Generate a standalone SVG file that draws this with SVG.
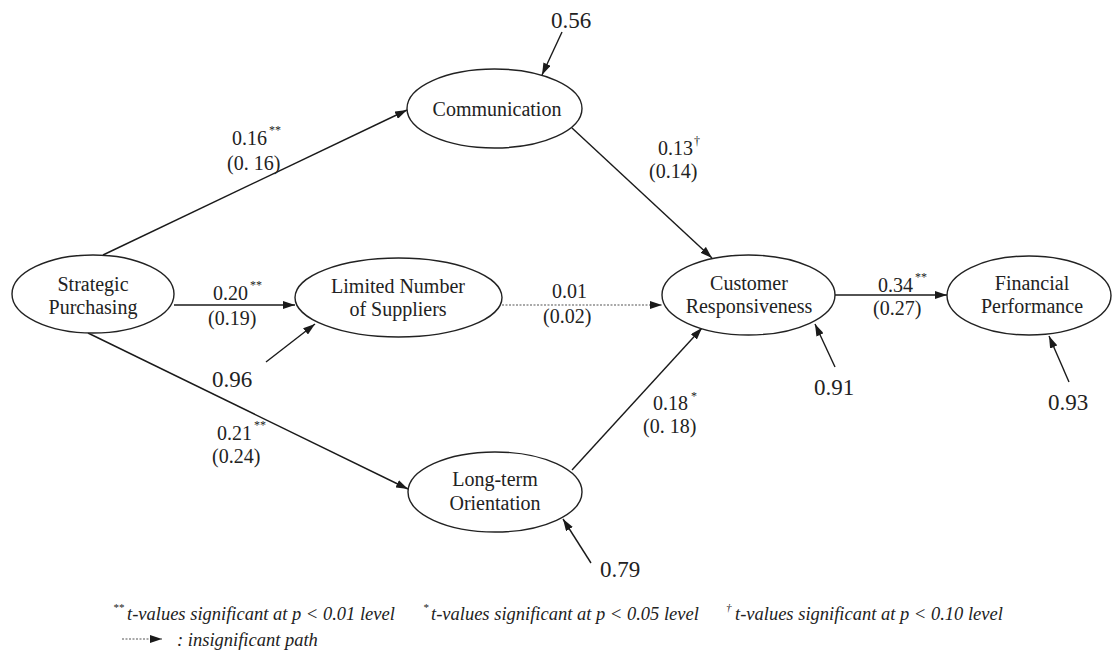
<svg xmlns="http://www.w3.org/2000/svg" width="1113" height="659" viewBox="0 0 1113 659" font-family="'Liberation Serif', 'Times New Roman', 'DejaVu Serif', serif">
  <defs>
    <marker id="ah" viewBox="0 0 12 8" refX="12" refY="4" markerWidth="12" markerHeight="8" markerUnits="userSpaceOnUse" orient="auto">
      <path d="M0,0 L12,4 L0,8 z" fill="#1a1a1a"/>
    </marker>
    <style>
      text { font-family: 'Liberation Serif', 'Times New Roman', 'DejaVu Serif', serif; fill: #222; }
      .node ellipse { fill: #fff; stroke: #222; stroke-width: 1.4; }
      .lbl { font-size: 20px; text-anchor: middle; }
      .coef { font-size: 20px; }
      .sup { font-size: 12px; }
      .err { font-size: 23px; text-anchor: middle; }
      .path { stroke: #1a1a1a; stroke-width: 1.4; fill: none; marker-end: url(#ah); }
      .insig { stroke: #555; stroke-width: 1.2; stroke-dasharray: 2 1.5; }
      .legend { font-size: 18.5px; font-style: italic; }
      .legsup { font-size: 11px; font-style: italic; }
    </style>
  </defs>

  <rect width="1113" height="659" fill="#fff"/>

  <!-- connectors -->
  <g id="connectors">
    <line class="path" x1="103" y1="255" x2="407" y2="110"/>
    <line class="path" x1="174" y1="305" x2="295" y2="305"/>
    <line class="path" x1="88" y1="333" x2="408" y2="489"/>
    <line class="path insig" x1="502" y1="305" x2="662" y2="305"/>
    <line class="path" x1="572" y1="128" x2="712" y2="258"/>
    <line class="path" x1="572" y1="470" x2="702" y2="328"/>
    <line class="path" x1="835" y1="295" x2="947" y2="295"/>
    <!-- residual arrows -->
    <line class="path" x1="562" y1="32" x2="542" y2="75"/>
    <line class="path" x1="266" y1="362" x2="315" y2="324"/>
    <line class="path" x1="835" y1="367" x2="815" y2="324"/>
    <line class="path" x1="1069" y1="382" x2="1049" y2="336"/>
    <line class="path" x1="591" y1="563" x2="563" y2="519"/>
  </g>

  <!-- nodes -->
  <g id="strategic-purchasing" class="node">
    <ellipse cx="93" cy="294" rx="81" ry="39"/>
    <text class="lbl" x="93" y="291">Strategic</text>
    <text class="lbl" x="93" y="314">Purchasing</text>
  </g>
  <g id="communication" class="node">
    <ellipse cx="494.5" cy="108.5" rx="87.5" ry="39.5"/>
    <text class="lbl" x="497" y="116">Communication</text>
  </g>
  <g id="limited-number-of-suppliers" class="node">
    <ellipse cx="398.5" cy="297.5" rx="103.5" ry="39.5"/>
    <text class="lbl" x="398" y="293">Limited Number</text>
    <text class="lbl" x="398" y="316">of Suppliers</text>
  </g>
  <g id="long-term-orientation" class="node">
    <ellipse cx="495" cy="492" rx="87" ry="40"/>
    <text class="lbl" x="495" y="486">Long-term</text>
    <text class="lbl" x="495" y="510">Orientation</text>
  </g>
  <g id="customer-responsiveness" class="node">
    <ellipse cx="748.5" cy="295" rx="86.5" ry="40"/>
    <text class="lbl" x="749" y="290">Customer</text>
    <text class="lbl" x="749" y="313">Responsiveness</text>
  </g>
  <g id="financial-performance" class="node">
    <ellipse cx="1029" cy="295.5" rx="82" ry="39.5"/>
    <text class="lbl" x="1032" y="290">Financial</text>
    <text class="lbl" x="1032" y="313">Performance</text>
  </g>

  <!-- path coefficients -->
  <g id="coefficients">
    <text class="coef" x="232" y="145">0.16</text><text class="sup" x="269" y="134">**</text>
    <text class="coef" x="227" y="170">(0. 16)</text>

    <text class="coef" x="213" y="300">0.20</text><text class="sup" x="250" y="289">**</text>
    <text class="coef" x="208" y="325">(0.19)</text>

    <text class="coef" x="217" y="440">0.21</text><text class="sup" x="254" y="429">**</text>
    <text class="coef" x="212" y="463">(0.24)</text>

    <text class="coef" x="552" y="298">0.01</text>
    <text class="coef" x="543" y="323">(0.02)</text>

    <text class="coef" x="658" y="155">0.13</text><text class="sup" x="694" y="145">†</text>
    <text class="coef" x="649" y="178">(0.14)</text>

    <text class="coef" x="653" y="410">0.18</text><text class="sup" x="691" y="400">*</text>
    <text class="coef" x="643" y="433">(0. 18)</text>

    <text class="coef" x="878" y="292">0.34</text><text class="sup" x="915" y="281">**</text>
    <text class="coef" x="873" y="315">(0.27)</text>
  </g>

  <!-- residual values -->
  <g id="residuals">
    <text class="err" x="571" y="28">0.56</text>
    <text class="err" x="232" y="387">0.96</text>
    <text class="err" x="834" y="395">0.91</text>
    <text class="err" x="1068" y="410">0.93</text>
    <text class="err" x="620" y="577">0.79</text>
  </g>

  <!-- legend -->
  <g id="legend">
    <text class="legsup" x="113" y="611">**</text>
    <text class="legend" x="127" y="620">t-values significant at p &lt; 0.01 level</text>
    <text class="legsup" x="423" y="611">*</text>
    <text class="legend" x="431" y="620">t-values significant at p &lt; 0.05 level</text>
    <text class="legsup" x="726" y="611">†</text>
    <text class="legend" x="735" y="620">t-values significant at p &lt; 0.10 level</text>
    <line class="path insig" x1="122" y1="639" x2="162" y2="639"/>
    <text class="legend" x="177" y="646">: insignificant path</text>
  </g>
</svg>
